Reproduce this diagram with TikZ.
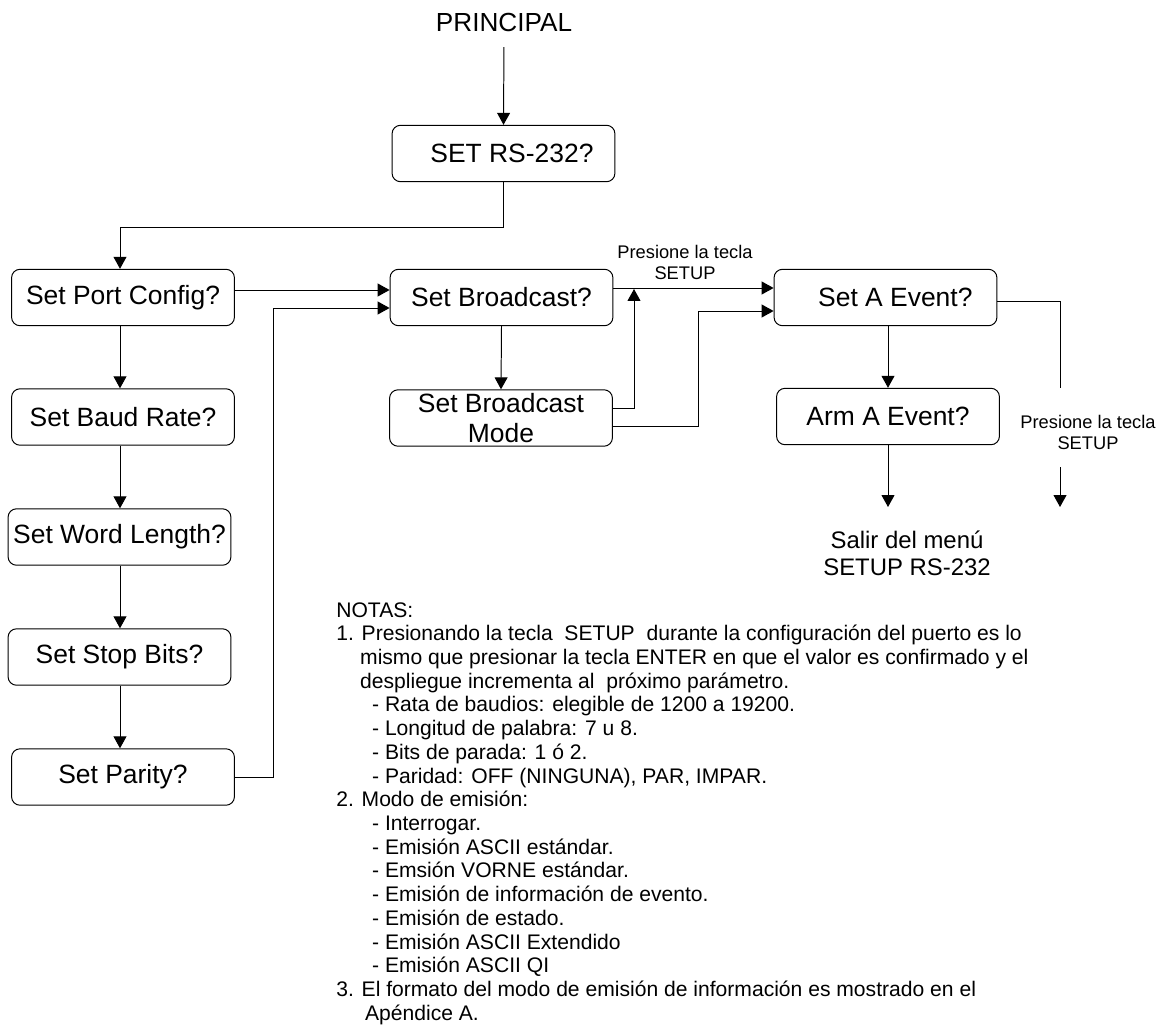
\documentclass[tikz,border=0pt]{standalone}
\usepackage{fontspec}
\setmainfont{Liberation Sans}
\usepackage{tikz}
\usetikzlibrary{arrows.meta, positioning}
\colorlet{edge-color}{black}
\tikzset{
    menu/.style = {draw=edge-color, line width=0.7pt, rounded corners=6pt,
        minimum width=5.57cm, minimum height=1.41cm, inner sep=0pt,
        align=center, font=\fontsize{18.8}{21.3}\selectfont},
    flow/.style = {draw=edge-color, line width=0.7pt,
        -{Triangle[length=8.5pt,width=9.2pt]}},
    link/.style = {draw=edge-color, line width=0.7pt},
    hint/.style = {align=center, inner sep=0pt,
        font=\fontsize{13}{14.9}\selectfont},
    exit/.style = {align=center, inner sep=0pt,
        font=\fontsize{17}{19.1}\selectfont},
}

\begin{document}
\begin{tikzpicture}[x=0.025cm, y=-0.025cm]
    \useasboundingbox (0,0) rectangle (1168,1030);

    % main entry
    \node[font=\fontsize{18.6}{21.3}\selectfont] (principal) at (504,23) {PRINCIPAL};
    \node[menu] (rs) at (503.5,153.5) {\hspace*{12pt}SET RS-232?};

    % port configuration column
    \coordinate (colx) at (120,0);
    \foreach \nm/\x/\y/\txt in {port/123/297.5/Set Port Config?,
                                baud/123/417/Set Baud Rate?,
                                word/119.5/537/Set Word Length?,
                                stop/119.5/657/Set Stop Bits?,
                                parity/123/777/Set Parity?}
        \node[menu] (\nm) at (\x,\y) {\txt};

    % broadcast and event
    \node[menu] (bcast)  at (501.5,297.5) {Set Broadcast?};
    \node[menu] (bmode)  at (501,418) {Set Broadcast\\Mode};
    \node[menu] (aevent) at (885.5,297.5) {\hspace*{14pt}Set A Event?};
    \node[menu] (arm)    at (888,416.5) {Arm A Event?};

    \node[hint] (keyA) at (685,262) {Presione la tecla\\SETUP};
    \node[hint] (keyB) at (1088,432.5) {Presione la tecla\\SETUP};
    \node[exit] (salir) at (907,553) {Salir del men\'u\\SETUP RS-232};

    \coordinate (bend)  at (120,227);
    \coordinate (riser) at (273,308);
    \coordinate (tap)   at (634,289);
    \coordinate (jog)   at (698,311);
    \coordinate (brkA)  at (1060,388);
    \coordinate (brkB)  at (1060,467);
    \coordinate (exitA) at (888,507);
    \coordinate (exitB) at (1060,507);

    % connectors
    \draw[flow, shorten <=7pt] (principal.south) -- (rs.north);
    \draw[flow] (rs.south) |- (bend) -- (port.north -| bend);
    \foreach \a/\b in {port/baud, baud/word, word/stop, stop/parity}
        \draw[flow] (\a.south -| colx) -- (\b.north -| colx);

    \draw[flow] (port.east |- 0,290) -- (bcast.west |- 0,290);
    \draw[flow] (parity.east) -| (riser) -- (bcast.west |- riser);
    \draw[flow] (bcast.south) -- (bmode.north);
    \draw[flow] (bcast.east |- 0,288) -- (aevent.west |- 0,288);
    \draw[flow] (bmode.east |- 0,408) -| (tap);
    \draw[flow] (bmode.east |- 0,426) -| (jog) -- (aevent.west |- jog);

    \draw[flow] (aevent.south -| arm.north) -- (arm.north);
    \draw[flow] (arm.south) -- (exitA);
    \draw[link] (aevent.east |- 0,301) -| (brkA);
    \draw[flow] (brkB) -- (exitB);

    % notes
    \node[anchor=north west, inner sep=0pt, align=left,
          font=\fontsize{15}{16.87}\selectfont] (notas) at (336,602) {%
        NOTAS:\\
        1. Presionando la tecla\ \ SETUP\ \ durante la configuraci\'on del puerto es lo\\
        \hspace*{17pt}mismo que presionar la tecla ENTER en que el valor es confirmado y el\\
        \hspace*{17pt}despliegue incrementa al\ \ pr\'oximo par\'ametro.\\
        \hspace*{25.5pt}- Rata de baudios: elegible de 1200 a 19200.\\
        \hspace*{25.5pt}- Longitud de palabra: 7 u 8.\\
        \hspace*{25.5pt}- Bits de parada: 1 \'o 2.\\
        \hspace*{25.5pt}- Paridad: OFF (NINGUNA), PAR, IMPAR.\\
        2. Modo de emisi\'on:\\
        \hspace*{25.5pt}- Interrogar.\\
        \hspace*{25.5pt}- Emisi\'on ASCII est\'andar.\\
        \hspace*{25.5pt}- Emsi\'on VORNE est\'andar.\\
        \hspace*{25.5pt}- Emisi\'on de informaci\'on de evento.\\
        \hspace*{25.5pt}- Emisi\'on de estado.\\
        \hspace*{25.5pt}- Emisi\'on ASCII Extendido\\
        \hspace*{25.5pt}- Emisi\'on ASCII QI\\
        3. El formato del modo de emisi\'on de informaci\'on es mostrado en el\\
        \hspace*{20.5pt}Ap\'endice A.};
\end{tikzpicture}
\end{document}
